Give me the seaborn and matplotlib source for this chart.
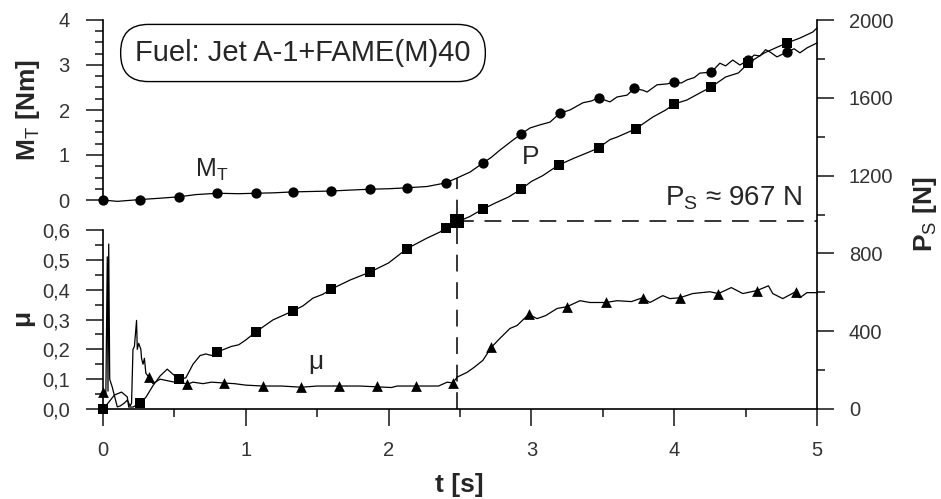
import matplotlib
matplotlib.use("Agg")
import matplotlib.pyplot as plt
from matplotlib.ticker import MultipleLocator, FuncFormatter
import seaborn as sns

# --- Data -----------------------------------------------------------------
# friction torque M_T [Nm]
mt_t = [0, 0.1, 0.26, 0.4, 0.53, 0.65, 0.8, 0.95, 1.07, 1.2, 1.33, 1.47, 1.6,
        1.73, 1.87, 2.0, 2.12, 2.27, 2.4, 2.48, 2.57, 2.66, 2.72, 2.78, 2.87,
        2.93, 2.99, 3.06, 3.13, 3.2, 3.27, 3.36, 3.42, 3.47, 3.55, 3.6, 3.67,
        3.72, 3.78, 3.81, 3.88, 3.95, 4.0, 4.05, 4.09, 4.14, 4.18, 4.26, 4.32,
        4.36, 4.41, 4.46, 4.52, 4.56, 4.6, 4.64, 4.67, 4.72, 4.79, 4.84, 4.88,
        4.93, 5.0]
mt_val = [0, -0.03, 0.01, 0.04, 0.07, 0.12, 0.15, 0.14, 0.15, 0.16, 0.18, 0.19,
          0.2, 0.22, 0.24, 0.25, 0.27, 0.3, 0.38, 0.49, 0.62, 0.82, 0.95, 1.11,
          1.33, 1.47, 1.6, 1.67, 1.73, 1.93, 2.0, 2.16, 2.2, 2.27, 2.18, 2.29,
          2.33, 2.48, 2.44, 2.4, 2.56, 2.58, 2.62, 2.6, 2.67, 2.72, 2.82, 2.84,
          3.04, 2.98, 3.11, 3.0, 3.11, 3.22, 3.2, 3.34, 3.29, 3.18, 3.29, 3.36,
          3.27, 3.38, 3.49]
mt_mark_t = [0, 0.26, 0.53, 0.8, 1.07, 1.33, 1.6, 1.87, 2.13, 2.4, 2.66, 2.93,
             3.2, 3.47, 3.72, 4.0, 4.26, 4.52, 4.79]
mt_mark_val = [0, 0.01, 0.07, 0.15, 0.15, 0.18, 0.2, 0.24, 0.27, 0.38, 0.82,
               1.47, 1.93, 2.27, 2.48, 2.62, 2.84, 3.11, 3.29]

# normal load P [N]
p_t = [0, 0.035, 0.08, 0.13, 0.17, 0.18, 0.21, 0.26, 0.3, 0.35, 0.4, 0.45,
       0.48, 0.53, 0.58, 0.63, 0.68, 0.72, 0.76, 0.8, 0.9, 0.95, 1.0, 1.07,
       1.19, 1.33, 1.4, 1.47, 1.54, 1.6, 1.73, 1.87, 2.0, 2.13, 2.27, 2.36,
       2.4, 2.48, 2.57, 2.66, 2.75, 2.84, 2.93, 3.0, 3.08, 3.19, 3.3, 3.4,
       3.47, 3.55, 3.6, 3.73, 3.85, 3.94, 4.0, 4.09, 4.18, 4.26, 4.36, 4.45,
       4.52, 4.63, 4.72, 4.79, 4.88, 4.97, 5.0]
p_val = [0, 30, 72, 87, 62, 10, 10, 30, 60, 120, 170, 205, 185, 154, 160, 230,
         275, 283, 275, 293, 322, 330, 355, 396, 458, 504, 530, 570, 590, 617,
         663, 704, 751, 825, 879, 910, 931, 962, 990, 1028, 1060, 1090, 1131,
         1170, 1200, 1254, 1290, 1320, 1342, 1385, 1398, 1440, 1501, 1537, 1568,
         1589, 1625, 1656, 1707, 1728, 1779, 1830, 1860, 1882, 1907, 1938, 1959]
p_mark_t = [0, 0.26, 0.53, 0.8, 1.07, 1.33, 1.6, 1.87, 2.13, 2.4, 2.66, 2.93,
            3.19, 3.47, 3.73, 4.0, 4.26, 4.52, 4.79]
p_mark_val = [0, 30, 154, 293, 396, 504, 617, 704, 825, 931, 1028, 1131, 1254,
              1342, 1440, 1568, 1656, 1779, 1882]

# seizure point
ps_t = 2.48
ps_val = 967
ps_line_top = 1190

# friction coefficient mu
mu_t = [0, 0.02, 0.03, 0.035, 0.04, 0.047, 0.065, 0.1, 0.12, 0.15, 0.17, 0.19,
        0.2, 0.21, 0.22, 0.235, 0.24, 0.25, 0.265, 0.27, 0.28, 0.29, 0.3, 0.32,
        0.35, 0.4, 0.45, 0.5, 0.55, 0.59, 0.63, 0.7, 0.76, 0.85, 0.92, 1.0,
        1.12, 1.25, 1.39, 1.5, 1.65, 1.8, 2.02, 2.06, 2.19, 2.35, 2.41, 2.45,
        2.48, 2.55, 2.6, 2.66, 2.72, 2.78, 2.85, 2.9, 2.98, 3.04, 3.1, 3.18,
        3.25, 3.34, 3.41, 3.52, 3.6, 3.7, 3.78, 3.83, 3.92, 3.97, 4.04, 4.13,
        4.25, 4.31, 4.4, 4.48, 4.58, 4.66, 4.69, 4.76, 4.85, 4.88, 4.93, 5.0]
mu_val = [0.057, 0.05, 0.51, 0.06, 0.553, 0.1, 0.073, 0.007, 0.01, 0.02, 0.03,
          0.01, 0.02, 0.2, 0.21, 0.297, 0.2, 0.22, 0.2, 0.17, 0.15, 0.17, 0.12,
          0.107, 0.085, 0.1, 0.095, 0.09, 0.09, 0.083, 0.09, 0.085, 0.09, 0.087,
          0.085, 0.08, 0.077, 0.077, 0.073, 0.077, 0.077, 0.077, 0.072, 0.077,
          0.077, 0.077, 0.09, 0.087, 0.107, 0.123, 0.14, 0.163, 0.207, 0.237,
          0.27, 0.28, 0.317, 0.303, 0.313, 0.337, 0.343, 0.363, 0.357, 0.357,
          0.363, 0.36, 0.373, 0.357, 0.38, 0.37, 0.373, 0.387, 0.393, 0.387,
          0.407, 0.387, 0.397, 0.413, 0.387, 0.37, 0.393, 0.373, 0.39, 0.39]
mu_mark_t = [0, 0.32, 0.59, 0.85, 1.12, 1.39, 1.65, 1.92, 2.19, 2.45, 2.72,
             2.98, 3.25, 3.52, 3.78, 4.04, 4.31, 4.58, 4.85]
mu_mark_val = [0.057, 0.107, 0.083, 0.087, 0.077, 0.073, 0.077, 0.077, 0.077,
               0.087, 0.207, 0.317, 0.343, 0.357, 0.373, 0.373, 0.387, 0.397,
               0.393]

# --- Style ---------------------------------------------------------------
sns.set_style("ticks")
plt.rcParams['font.family'] = ['Liberation Sans', 'DejaVu Sans']
plt.rcParams['mathtext.fontset'] = 'custom'
plt.rcParams['mathtext.rm'] = 'Liberation Sans'
plt.rcParams['mathtext.bf'] = 'Liberation Sans:bold'

W_PX, H_PX = 941, 499
fig = plt.figure(figsize=(W_PX / 100, H_PX / 100), dpi=100)


def frac(x, y):
    return x / W_PX, 1 - y / H_PX


left, width = 103 / W_PX, 714 / W_PX
ax_mt = fig.add_axes([left, 299 / H_PX, width, 180 / H_PX])
ax_mu = fig.add_axes([left, 90 / H_PX, width, 179 / H_PX])
ax_p = fig.add_axes([left, 90 / H_PX, width, 389 / H_PX])

TICK_COLOR = '#333333'
TICK_SIZE = 14.5

for ax in (ax_mt, ax_mu, ax_p):
    ax.patch.set_visible(False)
    ax.set_xlim(0, 5)
    for s in ax.spines.values():
        s.set_linewidth(1.2)
        s.set_color('black')

# left axes: only left spine
for ax in (ax_mt, ax_mu):
    for s in ('top', 'right', 'bottom'):
        ax.spines[s].set_visible(False)
    ax.tick_params(axis='x', bottom=False, labelbottom=False)
    ax.tick_params(axis='y', which='major', length=12, width=1.2, pad=12,
                   labelsize=TICK_SIZE, labelcolor=TICK_COLOR, direction='out')
    ax.tick_params(axis='y', which='minor', length=6, width=1.2, direction='out')

ax_mt.set_ylim(0, 4)
ax_mt.yaxis.set_major_locator(MultipleLocator(1))
ax_mt.yaxis.set_minor_locator(MultipleLocator(0.25))

ax_mu.set_ylim(0, 0.6)
ax_mu.yaxis.set_major_locator(MultipleLocator(0.1))
ax_mu.yaxis.set_minor_locator(MultipleLocator(0.05))
ax_mu.yaxis.set_major_formatter(FuncFormatter(lambda v, _: f"{v:.1f}".replace('.', ',')))

# main axes: bottom x-axis + right P_S axis
ax_p.spines['top'].set_visible(False)
ax_p.spines['left'].set_visible(False)
ax_p.set_ylim(0, 2000)
ax_p.yaxis.tick_right()
ax_p.yaxis.set_major_locator(MultipleLocator(400))
ax_p.yaxis.set_minor_locator(MultipleLocator(200))
ax_p.xaxis.set_major_locator(MultipleLocator(1))
ax_p.xaxis.set_minor_locator(MultipleLocator(0.5))
ax_p.tick_params(axis='both', which='major', length=12, width=1.2, direction='out',
                 labelsize=TICK_SIZE, labelcolor=TICK_COLOR)
ax_p.tick_params(axis='x', which='major', pad=11)
ax_p.tick_params(axis='y', which='major', pad=11)
ax_p.tick_params(axis='both', which='minor', length=6, width=1.2, direction='out')
ax_p.tick_params(axis='y', which='both', left=False, right=True,
                 labelleft=False, labelright=True)

# --- Curves --------------------------------------------------------------
line_kw = dict(color='black', linewidth=0.9, estimator=None, sort=False, clip_on=False)
sns.lineplot(x=mt_t, y=mt_val, ax=ax_mt, **line_kw)
sns.lineplot(x=mu_t, y=mu_val, ax=ax_mu, **line_kw)
sns.lineplot(x=p_t, y=p_val, ax=ax_p, **line_kw)

mark_kw = dict(color='black', edgecolor='black', linewidth=0, clip_on=False, zorder=4)
sns.scatterplot(x=mt_mark_t, y=mt_mark_val, ax=ax_mt, marker='o', s=55, **mark_kw)
sns.scatterplot(x=mu_mark_t, y=mu_mark_val, ax=ax_mu, marker='^', s=60, **mark_kw)
sns.scatterplot(x=p_mark_t, y=p_mark_val, ax=ax_p, marker='s', s=55, **mark_kw)
sns.scatterplot(x=[ps_t], y=[ps_val], ax=ax_p, marker='s', s=110, **mark_kw)

# seizure load guides
ax_p.plot([ps_t, 5], [ps_val, ps_val], color='black', lw=1.1, dashes=(11, 7))
ax_p.plot([ps_t, ps_t], [0, ps_line_top], color='black', lw=1.1, dashes=(11, 7))

for ax in (ax_mt, ax_mu, ax_p):
    ax.set_xlabel('')
    ax.set_ylabel('')

# --- Text ----------------------------------------------------------------
fig.text(*frac(303, 53), 'Fuel: Jet A-1+FAME(M)40', fontsize=21, ha='center', va='center',
         bbox=dict(boxstyle='round,pad=0.5,rounding_size=0.95', fc='white', ec='black', lw=1))
fig.text(*frac(212, 170), r'M$_{\mathrm{T}}$', fontsize=18, ha='center', va='center')
fig.text(*frac(531, 157), 'P', fontsize=19, ha='center', va='center')
fig.text(*frac(316, 362), 'μ', fontsize=19, ha='center', va='center')
fig.text(*frac(802, 205), r'P$_{\mathrm{S}}$ ≈ 967 N', fontsize=20, ha='right', va='baseline')

fig.text(*frac(28, 110), r'M$_{\mathrm{T}}$ [Nm]', fontsize=19, fontweight='bold',
         rotation=90, ha='center', va='center')
fig.text(*frac(22, 318), 'μ', fontsize=19, fontweight='bold',
         rotation=90, ha='center', va='center')
fig.text(*frac(925, 214), r'P$_{\mathrm{S}}$ [N]', fontsize=19, fontweight='bold',
         rotation=90, ha='center', va='center')
fig.text(*frac(459, 485), 't [s]', fontsize=19, fontweight='bold', ha='center', va='center')

fig.savefig('out.png', dpi=100)
